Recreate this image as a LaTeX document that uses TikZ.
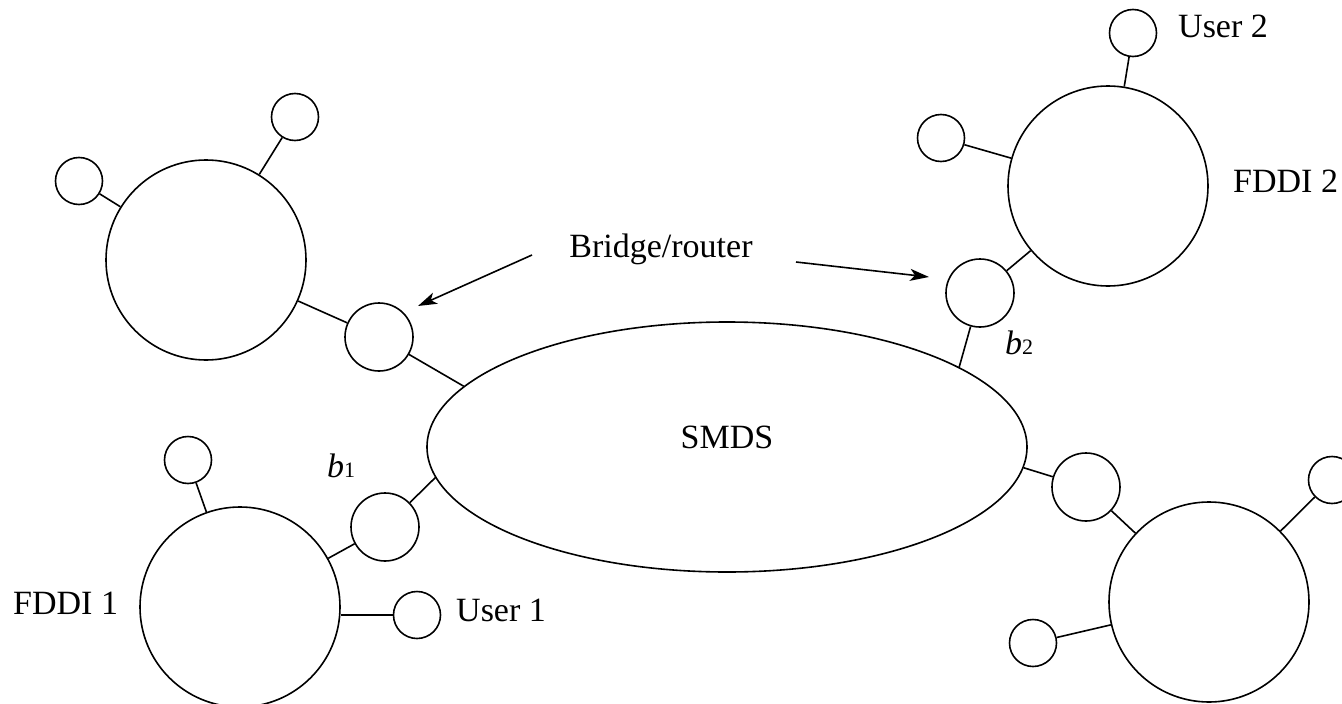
\documentclass[tikz,border=0pt]{standalone}
\usepackage{fontspec}
\setmainfont{Liberation Serif}
\usetikzlibrary{shapes.geometric,arrows.meta}

\tikzset{
  ring/.style={circle, draw, line width=1.6pt, inner sep=0pt, minimum size=200pt},
  station/.style={circle, draw, line width=1.6pt, inner sep=0pt, minimum size=47pt},
  bridgebox/.style={circle, draw, line width=1.6pt, inner sep=0pt, minimum size=68pt},
  cloud/.style={ellipse, draw, line width=1.6pt, inner sep=0pt, minimum width=600pt, minimum height=250pt},
  link/.style={line width=1.6pt},
  pointer/.style={line width=1.6pt, -{Stealth[length=19pt,width=12pt,inset=5pt]}},
  lbl/.style={inner sep=0pt, font=\fontsize{34}{40}\selectfont},
}

\begin{document}
\begin{tikzpicture}[x=1pt, y=-1pt]
  \useasboundingbox (0,0) rectangle (1342,704);

  % SMDS backbone
  \node[cloud] (smds) at (727,447) {};
  \node[lbl, anchor=base] (smdslbl) at (727,448) {SMDS};

  % Upper-left FDDI ring
  \node[ring] (ringA) at (206,260) {};
  \node[station] (sA1) at (295,117) {};
  \node[station] (sA2) at (79,181) {};
  \node[bridgebox] (brA) at (379,337) {};
  \draw[link] (ringA) -- (sA1);
  \draw[link] (ringA) -- (sA2);
  \draw[link] (ringA) -- (brA);
  \draw[link] (brA) -- (smds.167);

  % FDDI 2 (upper right)
  \node[ring] (ringB) at (1108,186) {};
  \node[station] (user2) at (1133,33) {};
  \node[station] (sB2) at (941,138) {};
  \node[bridgebox] (b2) at (980,293) {};
  \draw[link] (ringB) -- (user2);
  \draw[link] (ringB) -- (sB2);
  \draw[link] (ringB) -- (b2);
  \draw[link] (b2) -- (smds.19.4);
  \node[lbl, anchor=base west] (user2lbl) at (1178,37) {User 2};
  \node[lbl, anchor=base west] (fddi2lbl) at (1233,192) {FDDI 2};
  \node[lbl, anchor=base west] (b2lbl) at (1005,354) {\textit{b}{\fontsize{22}{26}\selectfont 2}};

  % FDDI 1 (lower left)
  \node[ring] (ringC) at (240,607) {};
  \node[station] (sC1) at (188,460) {};
  \node[station] (user1) at (417,615) {};
  \node[bridgebox] (b1) at (385,527) {};
  \draw[link] (ringC) -- (sC1);
  \draw[link] (user1.west) -- (user1.west -| ringC.east);
  \draw[link] (ringC) -- (b1);
  \draw[link] (b1) -- (smds.186.5);
  \node[lbl, anchor=base west] (fddi1lbl) at (13,614) {FDDI 1};
  \node[lbl, anchor=base west] (user1lbl) at (456,621) {User 1};
  \node[lbl, anchor=base west] (b1lbl) at (327,477) {\textit{b}{\fontsize{22}{26}\selectfont 1}};

  % Lower-right FDDI ring
  \node[ring] (ringD) at (1209,602) {};
  \node[station] (sD1) at (1332,480) {};
  \node[station] (sD2) at (1033,643) {};
  \node[bridgebox] (brD) at (1086,487) {};
  \draw[link] (ringD) -- (sD1);
  \draw[link] (ringD) -- (sD2);
  \draw[link] (ringD) -- (brD);
  \draw[link] (brD) -- (smds.-4);

  % Bridge/router callout
  \node[lbl, anchor=base] (brlbl) at (661,257) {Bridge/router};
  \coordinate (tailL) at (532,255);
  \coordinate (tipL) at (418,306);
  \coordinate (tailR) at (796,262);
  \coordinate (tipR) at (929,277);
  \draw[pointer] (tailL) -- (tipL);
  \draw[pointer] (tailR) -- (tipR);
\end{tikzpicture}
\end{document}
